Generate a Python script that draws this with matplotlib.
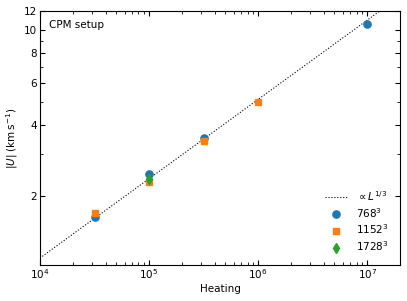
import numpy as np
import matplotlib
matplotlib.use("Agg")
import matplotlib.pyplot as plt
from matplotlib.ticker import FixedLocator, ScalarFormatter, NullFormatter, LogLocator

# data
heat_768 = [3.2e4, 1e5, 3.2e5, 1e7]
u_768 = [1.63, 2.47, 3.50, 10.56]
heat_1152 = [3.2e4, 1e5, 3.2e5, 1e6]
u_1152 = [1.70, 2.29, 3.43, 4.99]
heat_1728 = [1e5]
u_1728 = [2.36]

fit_x = [1e4, 2e7]
fit_norm = 1.10  # value at 1e4

plt.rcParams['font.size'] = 7.5
fig = plt.figure(figsize=(4.07, 3.01), dpi=100)
ax = fig.add_axes([0.098, 0.12, 0.885, 0.843])

xl = np.array(fit_x)
ax.plot(xl, fit_norm * (xl / 1e4) ** (1 / 3), ':', color='k', lw=0.8, label=r'$\propto L^{1/3}$')
ax.plot(heat_768, u_768, 'o', color='tab:blue', ms=5.2, ls='none', label=r'$768^3$')
ax.plot(heat_1152, u_1152, 's', color='tab:orange', ms=5, ls='none', label=r'$1152^3$')
ax.plot(heat_1728, u_1728, 'd', color='tab:green', ms=5.5, ls='none', label=r'$1728^3$')

ax.set_xscale('log')
ax.set_yscale('log')
ax.set_xlim(1e4, 2e7)
ax.set_ylim(1.03, 12)

ax.yaxis.set_major_locator(FixedLocator([2, 4, 6, 8, 10, 12]))
ax.yaxis.set_major_formatter(ScalarFormatter())
ax.yaxis.set_minor_locator(LogLocator(subs=np.arange(1, 10)))
ax.yaxis.set_minor_formatter(NullFormatter())

ax.tick_params(which='both', direction='in', top=True, right=True, pad=2)
ax.tick_params(which='major', length=3.5)
ax.tick_params(which='minor', length=2)

ax.set_xlabel('Heating', labelpad=2)
ax.set_ylabel(r'$|U|$ (km$\,$s$^{-1}$)', labelpad=3)
ax.text(0.025, 0.965, 'CPM setup', transform=ax.transAxes, va='top', ha='left')

ax.legend(loc='lower right', frameon=False, fontsize=7.5, handlelength=2.2,
          labelspacing=0.3, borderaxespad=0.7)

fig.savefig('out.png', dpi=100)
